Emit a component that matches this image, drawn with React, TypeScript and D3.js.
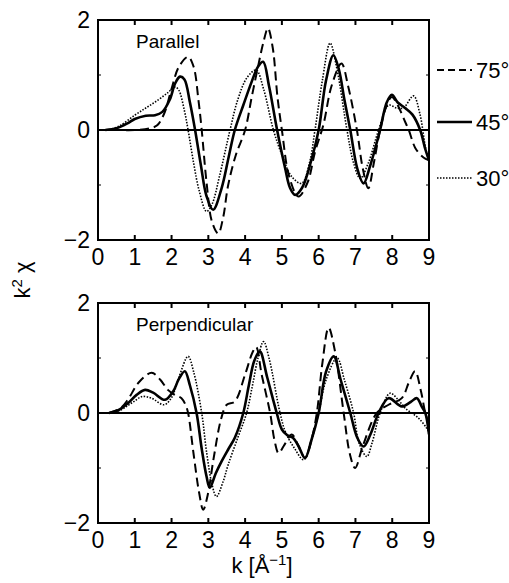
import React from 'react';
import * as d3 from 'd3';

// [k, k^2 chi] pairs
const par75 = [[0,0],[0.5,0],[1.0,0],[1.4,0.03],[1.6,0.08],[1.8,0.3],[2.0,0.75],[2.2,1.15],[2.45,1.33],[2.6,1.15],[2.73,0.55],[2.82,0],[2.95,-0.94],[3.1,-1.67],[3.27,-1.88],[3.4,-1.6],[3.54,-1.0],[3.75,-0.45],[4.0,0],[4.18,0.6],[4.36,1.18],[4.5,1.6],[4.62,1.85],[4.75,1.5],[4.88,0.6],[5.0,0],[5.2,-0.85],[5.45,-1.21],[5.7,-0.95],[5.9,-0.4],[6.13,0.1],[6.35,0.8],[6.62,1.21],[6.8,0.8],[7.04,0],[7.2,-0.7],[7.35,-1.06],[7.5,-0.6],[7.67,0],[7.85,0.45],[7.99,0.6],[8.15,0.45],[8.35,0.15],[8.45,0],[8.63,-0.33],[8.85,-0.5],[9,-0.55]];
const par45 = [[0.2,0],[0.5,0.03],[0.8,0.12],[1.0,0.2],[1.3,0.26],[1.55,0.27],[1.75,0.33],[1.95,0.55],[2.1,0.85],[2.23,0.97],[2.35,0.92],[2.5,0.5],[2.64,0],[2.8,-0.65],[2.95,-1.2],[3.13,-1.45],[3.36,-1.06],[3.55,-0.5],[3.72,0],[3.95,0.45],[4.18,0.88],[4.35,1.15],[4.49,1.24],[4.65,0.8],[4.87,0],[5.09,-0.7],[5.22,-1.05],[5.36,-1.18],[5.55,-1.05],[5.8,-0.55],[6.0,0],[6.2,0.9],[6.4,1.36],[6.55,1.1],[6.7,0.55],[6.86,0],[7.05,-0.7],[7.22,-0.97],[7.4,-0.65],[7.67,0],[7.85,0.5],[7.99,0.64],[8.15,0.5],[8.35,0.4],[8.55,0.28],[8.76,0],[8.9,-0.35],[9,-0.55]];
const par30 = [[0.3,0],[0.6,0.08],[1.0,0.27],[1.3,0.4],[1.6,0.53],[1.9,0.68],[2.1,0.78],[2.2,0.72],[2.35,0.35],[2.45,0],[2.6,-0.6],[2.75,-1.1],[2.95,-1.48],[3.1,-1.35],[3.3,-0.85],[3.59,0],[3.8,0.55],[4.05,0.95],[4.3,1.09],[4.5,0.75],[4.77,0],[5.0,-0.45],[5.27,-0.85],[5.54,-0.97],[5.75,-0.6],[5.9,0],[6.1,0.9],[6.31,1.58],[6.5,1.1],[6.77,0],[6.95,-0.6],[7.13,-0.88],[7.35,-0.6],[7.63,0],[7.9,0.45],[8.12,0.4],[8.3,0.4],[8.58,0.62],[8.75,0.3],[8.9,-0.3],[9,-0.58]];

const perp75 = [[0.3,0],[0.6,0.08],[0.82,0.25],[1.1,0.55],[1.46,0.73],[1.7,0.6],[1.9,0.42],[2.09,0.33],[2.27,0.27],[2.38,0.15],[2.45,0],[2.6,-0.75],[2.75,-1.45],[2.86,-1.76],[2.98,-1.5],[3.15,-0.8],[3.35,-0.1],[3.5,0.15],[3.72,0.21],[4.0,0.7],[4.2,1.1],[4.3,1.2],[4.45,0.7],[4.68,0],[4.8,-0.5],[4.91,-0.73],[5.05,-0.6],[5.27,-0.39],[5.45,-0.6],[5.63,-0.82],[5.8,-0.5],[5.95,0],[6.1,0.9],[6.27,1.55],[6.45,1.1],[6.68,0],[6.85,-0.75],[6.99,-1.0],[7.2,-0.6],[7.58,0],[7.9,0.15],[8.26,0.27],[8.45,0.55],[8.62,0.76],[8.78,0.4],[8.9,0],[9,-0.2]];
const perp45 = [[0.3,0],[0.55,0.05],[0.82,0.18],[1.05,0.33],[1.28,0.42],[1.5,0.37],[1.82,0.24],[2.05,0.4],[2.2,0.62],[2.36,0.76],[2.5,0.5],[2.68,0],[2.82,-0.65],[2.95,-1.15],[3.04,-1.36],[3.2,-1.1],[3.36,-0.88],[3.55,-0.65],[3.72,-0.45],[3.95,0],[4.1,0.5],[4.25,0.95],[4.4,1.12],[4.6,0.65],[4.86,0],[5.0,-0.3],[5.14,-0.4],[5.3,-0.45],[5.45,-0.6],[5.63,-0.82],[5.8,-0.5],[6.0,0],[6.2,0.75],[6.41,1.03],[6.6,0.6],[6.86,0],[7.05,-0.45],[7.22,-0.61],[7.4,-0.4],[7.63,0],[7.9,0.27],[8.26,0.12],[8.5,0.2],[8.67,0.27],[8.8,0.12],[8.9,0],[9,-0.39]];
const perp30 = [[0.3,0],[0.6,0.05],[0.82,0.14],[1.0,0.22],[1.2,0.3],[1.45,0.27],[1.8,0.15],[2.0,0.28],[2.2,0.65],[2.45,1.03],[2.6,0.75],[2.82,0],[2.95,-0.7],[3.1,-1.3],[3.22,-1.52],[3.4,-1.25],[3.54,-0.94],[3.8,-0.45],[4.04,0],[4.2,0.5],[4.35,1.0],[4.5,1.3],[4.65,1.0],[4.95,0],[5.1,-0.35],[5.35,-0.65],[5.59,-0.85],[5.8,-0.5],[6.0,0],[6.2,0.6],[6.5,1.0],[6.7,0.6],[6.95,0],[7.1,-0.55],[7.31,-0.79],[7.45,-0.55],[7.67,0],[7.94,0.36],[8.15,0.25],[8.35,0.09],[8.71,-0.09],[8.93,-0.27],[9,-0.35]];

const angles = ['75°', '45°', '30°'];
const xTicks = [0, 1, 2, 3, 4, 5, 6, 7, 8, 9];
const yTicks = [2, 0, -2];

const styles = [
  { width: 2, dash: '9,5' },
  { width: 2.6, dash: null },
  { width: 1.6, dash: '1.5,1.5' },
];

const font = '"Liberation Sans", Arial, sans-serif';

function Panel({ top, title, series }) {
  const left = 98, right = 429, h = 220;
  const x = d3.scaleLinear().domain([0, 9]).range([left, right]);
  const y = d3.scaleLinear().domain([-2, 2]).range([top + h, top]);
  const line = d3.line().x(d => x(d[0])).y(d => y(d[1])).curve(d3.curveCatmullRom.alpha(0.5));
  return (
    <g>
      <defs>
        <clipPath id={'clip' + top}>
          <rect x={left} y={top} width={right - left} height={h} />
        </clipPath>
      </defs>
      <line x1={left} x2={right} y1={y(0)} y2={y(0)} stroke="#000" strokeWidth={2} />
      <g clipPath={`url(#clip${top})`}>
        {series.map((s, i) => (
          <path key={i} d={line(s)} fill="none" stroke="#000"
            strokeWidth={styles[i].width} strokeDasharray={styles[i].dash || undefined} />
        ))}
      </g>
      <rect x={left} y={top} width={right - left} height={h} fill="none" stroke="#000" strokeWidth={2} />
      {xTicks.slice(1, -1).map(t => (
        <g key={t}>
          <line x1={x(t)} x2={x(t)} y1={top} y2={top + 5} stroke="#000" strokeWidth={2} />
          <line x1={x(t)} x2={x(t)} y1={top + h} y2={top + h - 5} stroke="#000" strokeWidth={2} />
        </g>
      ))}
      {[1, -1].map(t => (
        <g key={t}>
          <line x1={left} x2={left + 3} y1={y(t)} y2={y(t)} stroke="#000" strokeWidth={1} />
          <line x1={right} x2={right - 3} y1={y(t)} y2={y(t)} stroke="#000" strokeWidth={1} />
        </g>
      ))}
      {xTicks.map(t => (
        <text key={t} x={x(t)} y={top + h + 25} textAnchor="middle" fontSize={23} fontFamily={font}>{t}</text>
      ))}
      {yTicks.map(t => (
        <text key={t} x={left - 8} y={y(t) + 8} textAnchor="end" fontSize={23} fontFamily={font}>
          {t < 0 ? '\u2212' + Math.abs(t) : t}
        </text>
      ))}
      <text x={136} y={top + 28} fontSize={19} fontFamily={font}>{title}</text>
    </g>
  );
}

export default function App() {
  const legendY = [70, 122, 178];
  return (
    <svg width={509} height={583} style={{ position: 'absolute', left: 0, top: 0, background: '#fff' }}>
      <Panel top={20} title="Parallel" series={[par75, par45, par30]} />
      <Panel top={303} title="Perpendicular" series={[perp75, perp45, perp30]} />
      {angles.map((a, i) => (
        <g key={a}>
          <line x1={437} x2={472} y1={legendY[i]} y2={legendY[i]} stroke="#000"
            strokeWidth={styles[i].width} strokeDasharray={i === 0 ? '7,4' : styles[i].dash || undefined} />
          <text x={476} y={legendY[i] + 8} fontSize={22} fontFamily={font}>{a}</text>
        </g>
      ))}
      <text transform="translate(30,280) rotate(-90)" textAnchor="middle" fontSize={22} fontFamily={font}>
        k<tspan dy={-8} fontSize={15}>2</tspan><tspan dy={8}> χ</tspan>
      </text>
      <text x={262} y={573} textAnchor="middle" fontSize={22} fontFamily={font}>
        k [Å<tspan dy={-8} fontSize={15}>−1</tspan><tspan dy={8}>]</tspan>
      </text>
    </svg>
  );
}
